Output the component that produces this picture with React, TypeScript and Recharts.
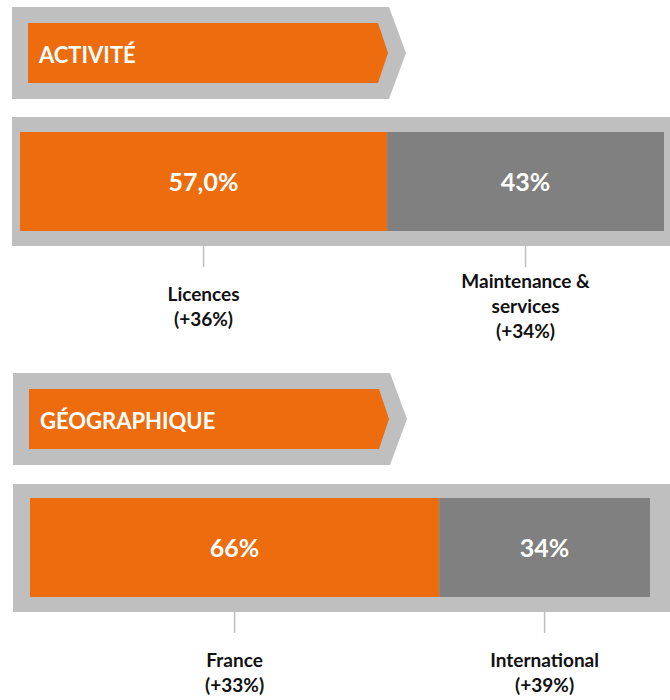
import React from 'react';
import { BarChart, Bar, XAxis, YAxis, LabelList } from 'recharts';

const ORANGE = '#EC6C0E';
const BAR_GRAY = '#808080';
const FRAME_GRAY = '#BFBFBF';
const FONT = 'Lato, "Open Sans", sans-serif';

// ---- Data ----
const activityTitle = 'ACTIVITÉ';
const activityCategories = ['Licences', 'Maintenance &\nservices'];
const activityShares = [57, 43];
const activityShareLabels = ['57,0%', '43%'];
const activityGrowth = ['(+36%)', '(+34%)'];

const geoTitle = 'GÉOGRAPHIQUE';
const geoCategories = ['France', 'International'];
const geoShares = [66, 34];
const geoShareLabels = ['66%', '34%'];
const geoGrowth = ['(+33%)', '(+39%)'];

const segmentColors = [ORANGE, BAR_GRAY];

const makeRow = (shares: number[]) => {
  const row: Record<string, number | string> = { name: 'total' };
  shares.forEach((v, i) => {
    row['s' + i] = v;
  });
  return [row];
};

const makeSegmentLabel = (shareLabel: string, category: string, growth: string) => (props: any) => {
  const x = Number(props.x);
  const y = Number(props.y);
  const width = Number(props.width);
  const height = Number(props.height);
  const cx = x + width / 2;
  const bottom = y + height;
  const lines = [...category.split('\n'), growth];
  const mid = bottom + 82;
  const first = mid - ((lines.length - 1) * 25) / 2;
  return (
    <g>
      <text
        x={cx}
        y={y + height / 2 + 9}
        textAnchor="middle"
        fill="#ffffff"
        fontSize={25}
        fontWeight={700}
        fontFamily={FONT}
      >
        {shareLabel}
      </text>
      <line x1={cx} x2={cx} y1={bottom + 15} y2={bottom + 36} stroke={FRAME_GRAY} strokeWidth={1.5} />
      {lines.map((l, i) => (
        <text
          key={i}
          x={cx}
          y={first + i * 25}
          textAnchor="middle"
          fill="#111111"
          fontSize={19}
          fontWeight={700}
          fontFamily={FONT}
        >
          {l}
        </text>
      ))}
    </g>
  );
};

type SectionProps = {
  shares: number[];
  shareLabels: string[];
  categories: string[];
  growth: string[];
  width: number;
  height: number;
  barHeight: number;
};

const StackedShare = ({ shares, shareLabels, categories, growth, width, height, barHeight }: SectionProps) => {
  const data = makeRow(shares);
  return (
    <BarChart
      width={width}
      height={height}
      data={data}
      layout="vertical"
      margin={{ top: 0, right: 0, bottom: height - barHeight, left: 0 }}
      barCategoryGap="0%"
      barGap={0}
    >
      <XAxis type="number" domain={[0, 100]} hide />
      <YAxis type="category" dataKey="name" hide />
      {shares.map((_, i) => (
        <Bar key={i} dataKey={'s' + i} stackId="a" fill={segmentColors[i]} isAnimationActive={false}>
          <LabelList
            dataKey={'s' + i}
            content={makeSegmentLabel(shareLabels[i], categories[i], growth[i])}
          />
        </Bar>
      ))}
    </BarChart>
  );
};

const Header = ({ title, top, left }: { title: string; top: number; left: number }) => {
  const h = 92;
  const w = 377;
  const tip = 17;
  const inset = 16;
  const ih = h - 2 * inset;
  return (
    <svg width={w + tip + 2} height={h + 2} style={{ position: 'absolute', left, top }}>
      <polygon points={`0,0 ${w},0 ${w + tip},${h / 2} ${w},${h} 0,${h}`} fill={FRAME_GRAY} />
      <polygon
        points={`${inset},${inset} ${w - 11},${inset} ${w - 1},${h / 2} ${w - 11},${inset + ih} ${inset},${inset + ih}`}
        fill={ORANGE}
      />
      <text x={27} y={56} fill="#ffffff" fontSize={22} fontWeight={700} fontFamily={FONT}>
        {title}
      </text>
    </svg>
  );
};

export default function App() {
  return (
    <div
      style={{
        position: 'absolute',
        left: 0,
        top: 0,
        width: 670,
        height: 700,
        background: '#ffffff',
        overflow: 'hidden',
        fontFamily: FONT,
      }}
    >
      <Header title={activityTitle} left={12} top={7} />
      <div style={{ position: 'absolute', left: 12, top: 117, width: 658, height: 129, background: FRAME_GRAY }} />
      <div style={{ position: 'absolute', left: 20, top: 132 }}>
        <StackedShare
          shares={activityShares}
          shareLabels={activityShareLabels}
          categories={activityCategories}
          growth={activityGrowth}
          width={644}
          height={229}
          barHeight={99}
        />
      </div>

      <Header title={geoTitle} left={13} top={373} />
      <div style={{ position: 'absolute', left: 13, top: 484, width: 657, height: 128, background: FRAME_GRAY }} />
      <div style={{ position: 'absolute', left: 30, top: 498 }}>
        <StackedShare
          shares={geoShares}
          shareLabels={geoShareLabels}
          categories={geoCategories}
          growth={geoGrowth}
          width={620}
          height={202}
          barHeight={99}
        />
      </div>
    </div>
  );
}
